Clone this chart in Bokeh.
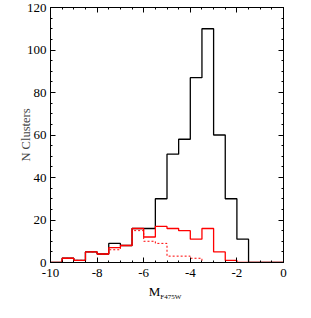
from bokeh.plotting import figure
from bokeh.models import Range1d, FixedTicker, LinearAxis, Div
from bokeh.layouts import column
from bokeh.embed import file_html
from bokeh.resources import INLINE

# Histogram bin edges (M_F475W) and counts
edges = [-10.0, -9.5, -9.0, -8.5, -8.0, -7.5, -7.0, -6.5, -6.0, -5.5, -5.0,
         -4.5, -4.0, -3.5, -3.0, -2.5, -2.0, -1.5, -1.0, -0.5, 0.0]
all_counts = [0, 2, 1, 5, 4, 9, 8, 16, 16, 30, 51, 58, 87, 110, 60, 30, 11, 0, 0, 0]
red_counts = [0, 2, 1, 5, 4, 7, 8, 16, 12, 17, 16, 15, 11, 16, 5, 1, 0, 0, 0, 0]
dot_counts = [0, 2, 1, 5, 4, 6, 8, 15, 10, 9, 3, 3, 2, 0, 0, 0, 0, 0, 0, 0]

x_ticks = [-10, -8, -6, -4, -2, 0]
x_labels = ["-10", "-8", "-6", "-4", "-2", "0"]
y_ticks = [0, 20, 40, 60, 80, 100, 120]

FONT = "Liberation Serif"

p = figure(width=295, height=284, output_backend="svg", toolbar_location=None,
           x_range=Range1d(-10, 0), y_range=Range1d(0, 120),
           min_border_left=50, min_border_right=12, min_border_top=7,
           min_border_bottom=22)
p.grid.visible = False
p.outline_line_color = None

def steps(counts):
    return counts + [counts[-1]]

p.step(edges, steps(all_counts), mode="after", line_color="black", line_width=1.3)
p.step(edges, steps(dot_counts), mode="after", line_color="red", line_width=1,
       line_dash="2 2")
p.step(edges, steps(red_counts), mode="after", line_color="red", line_width=1.3)

xminor = [-10 + 0.5 * i for i in range(21)]
yminor = [5 * i for i in range(25)]

def style(ax, ticks, minor, labels=True):
    ax.ticker = FixedTicker(ticks=ticks, minor_ticks=minor)
    ax.axis_line_color = "black"
    ax.axis_line_width = 1
    ax.major_tick_in = 5
    ax.major_tick_out = 0
    ax.minor_tick_in = 2
    ax.minor_tick_out = 0
    ax.major_tick_line_color = "black"
    ax.minor_tick_line_color = "black"
    ax.major_label_text_font = FONT
    ax.major_label_text_font_size = "13px"
    ax.major_label_text_color = "black"
    if not labels:
        ax.major_label_text_alpha = 0

style(p.xaxis[0], x_ticks, xminor)
p.xaxis[0].major_label_overrides = dict(zip(x_ticks, x_labels))
style(p.yaxis[0], y_ticks, yminor)
p.xaxis[0].major_label_standoff = 6
p.yaxis[0].major_label_standoff = 4
p.yaxis[0].axis_label = "N Clusters"
p.yaxis[0].axis_label_text_font = FONT
p.yaxis[0].axis_label_text_font_size = "12.5px"
p.yaxis[0].axis_label_text_font_style = "normal"
p.yaxis[0].axis_label_standoff = -9

top = LinearAxis()
style(top, x_ticks, xminor, labels=False)
top.major_label_overrides = {t: "" for t in x_ticks}
p.add_layout(top, "above")
right = LinearAxis()
style(right, y_ticks, yminor, labels=False)
right.major_label_overrides = {t: "" for t in y_ticks}
p.add_layout(right, "right")

xlabel = Div(
    text=('<div style="width:230px;font-family:\'Liberation Serif\';font-size:13px;'
          'line-height:11px;text-align:center;color:black">'
          'M<span style="font-size:7px;vertical-align:-3px">F475W</span></div>'),
    width=233, height=16, margin=(0, 12, 0, 50))

layout = column(p, xlabel, spacing=0)
open("out.html", "w").write(file_html(layout, INLINE))
